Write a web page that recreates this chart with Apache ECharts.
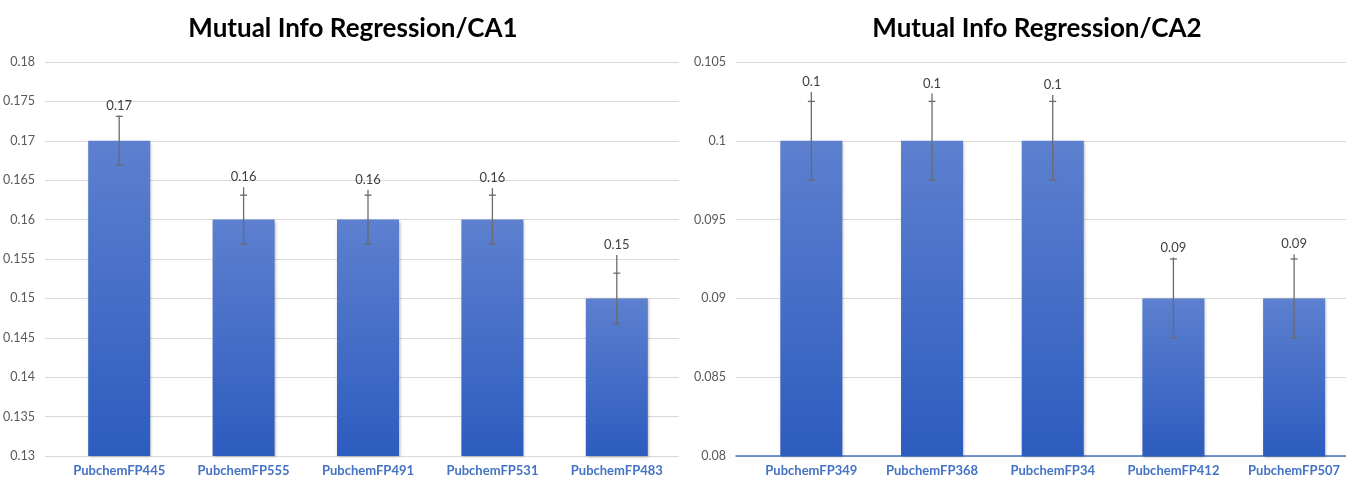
<!DOCTYPE html>
<html>
<head>
<meta charset="utf-8">
<script src="https://cdn.jsdelivr.net/npm/echarts@6/dist/echarts.min.js"></script>
<style>
html,body{margin:0;padding:0;background:#fff;}
#chart{width:1346px;height:481px;}
</style>
</head>
<body>
<div id="chart"></div>
<script>
// ---- data ----
const titleLeft = 'Mutual Info Regression/CA1';
const titleRight = 'Mutual Info Regression/CA2';

const catsLeft = ['PubchemFP445', 'PubchemFP555', 'PubchemFP491', 'PubchemFP531', 'PubchemFP483'];
const valsLeft = [0.17, 0.16, 0.16, 0.16, 0.15];
const capErrLeft = [0.0031, 0.0031, 0.0031, 0.0031, 0.0032];
const lineErrLeft = [0.0032, 0.0041, 0.0038, 0.0040, 0.0055];

const catsRight = ['PubchemFP349', 'PubchemFP368', 'PubchemFP34', 'PubchemFP412', 'PubchemFP507'];
const valsRight = [0.1, 0.1, 0.1, 0.09, 0.09];
const capErrRight = [0.0025, 0.0025, 0.0025, 0.0025, 0.0025];
const lineErrRight = [0.0031, 0.0030, 0.0029, 0.0026, 0.0028];

const yLeft = { min: 0.13, max: 0.18, interval: 0.005 };
const yRight = { min: 0.08, max: 0.105, interval: 0.005 };

// ---- styling ----
const FONT = 'Lato, "Noto Sans", sans-serif';
const barColor = new echarts.graphic.LinearGradient(0, 0, 0, 1, [
  { offset: 0, color: '#5d80cf' },
  { offset: 1, color: '#2d5cbf' }
]);
const barItem = { color: barColor, shadowColor: 'rgba(0,0,0,0.3)', shadowBlur: 3, shadowOffsetX: 1, shadowOffsetY: 1 };
const xLabelStyle = { margin: 8, color: '#4472c4', fontFamily: FONT, fontWeight: 'bold', fontSize: 13 };
const yLabelStyle = { margin: 10, color: '#595959', fontFamily: FONT, fontSize: 12.5 };

function errSeries(name, xi, yi, vals, capErr, lineErr) {
  return {
    name: name,
    type: 'custom',
    xAxisIndex: xi,
    yAxisIndex: yi,
    z: 5,
    clip: false,
    data: vals.map((v, i) => [i, v, capErr[i], lineErr[i]]),
    renderItem: function (params, api) {
      const i = api.value(0), v = api.value(1), ce = api.value(2), le = api.value(3);
      const pTop = api.coord([i, v + le]);
      const pHi = api.coord([i, v + ce]);
      const pLo = api.coord([i, v - ce]);
      const x = pTop[0];
      const hw = 3.5;
      const st = { stroke: '#6b6b6b', lineWidth: 1.3 };
      return {
        type: 'group',
        children: [
          { type: 'line', shape: { x1: x, y1: pLo[1], x2: x, y2: pTop[1] }, style: st },
          { type: 'line', shape: { x1: x - hw, y1: pHi[1], x2: x + hw, y2: pHi[1] }, style: st },
          { type: 'line', shape: { x1: x - hw, y1: pLo[1], x2: x + hw, y2: pLo[1] }, style: st },
          { type: 'text', x: x, y: pTop[1] - 10,
            style: { text: String(v), fill: '#404040', font: '13px ' + FONT, align: 'center', verticalAlign: 'middle' } }
        ]
      };
    }
  };
}

const chart = echarts.init(document.getElementById('chart'), null, { renderer: 'canvas' });

// right panel: category slots are 120.75px wide, the last slot is cut by the picture edge
const rightXMax = 4.43;

const option = {
  backgroundColor: '#ffffff',
  animation: false,
  title: [
    { text: titleLeft, left: 348, top: 11, textAlign: 'center',
      textStyle: { fontFamily: FONT, fontWeight: 'bold', fontSize: 26, color: '#000' } },
    { text: titleRight, left: 1032, top: 11, textAlign: 'center',
      textStyle: { fontFamily: FONT, fontWeight: 'bold', fontSize: 26, color: '#000' } }
  ],
  grid: [
    { left: 44, width: 635, top: 62, bottom: 25 },   // 0: left gridlines / y labels
    { left: 57, width: 622, top: 62, bottom: 25 },   // 1: left bars
    { left: 736, width: 610, top: 62, bottom: 25 },  // 2: right gridlines / y labels
    { left: 751, width: 595, top: 62, bottom: 25 }   // 3: right bars
  ],
  xAxis: [
    { gridIndex: 0, type: 'category', data: catsLeft, show: false },
    { gridIndex: 1, type: 'category', data: catsLeft,
      axisLine: { show: false }, axisTick: { show: false },
      axisLabel: Object.assign({ interval: 0 }, xLabelStyle) },
    { gridIndex: 2, type: 'category', data: catsRight, show: true,
      axisLine: { show: true, lineStyle: { color: '#4472c4', width: 1.5 } },
      axisTick: { show: false }, axisLabel: { show: false } },
    { gridIndex: 3, type: 'value', min: -0.5, max: rightXMax,
      axisLine: { show: false }, axisTick: { show: false }, splitLine: { show: false },
      axisLabel: Object.assign({
        customValues: [0, 1, 2, 3, 4],
        formatter: function (v) { return catsRight[Math.round(v)] || ''; }
      }, xLabelStyle) }
  ],
  yAxis: [
    { gridIndex: 0, type: 'value', min: yLeft.min, max: yLeft.max, interval: yLeft.interval,
      axisLine: { show: false }, axisTick: { show: false },
      axisLabel: yLabelStyle,
      splitLine: { lineStyle: { color: '#d9d9d9', width: 1 } } },
    { gridIndex: 1, type: 'value', min: yLeft.min, max: yLeft.max, interval: yLeft.interval, show: false,
      splitLine: { show: false } },
    { gridIndex: 2, type: 'value', min: yRight.min, max: yRight.max, interval: yRight.interval,
      axisLine: { show: false }, axisTick: { show: false },
      axisLabel: yLabelStyle,
      splitLine: { lineStyle: { color: '#d9d9d9', width: 1 } } },
    { gridIndex: 3, type: 'value', min: yRight.min, max: yRight.max, interval: yRight.interval, show: false,
      splitLine: { show: false } }
  ],
  series: [
    { type: 'bar', xAxisIndex: 1, yAxisIndex: 1, data: valsLeft, barWidth: 62, itemStyle: barItem },
    errSeries('errL', 1, 1, valsLeft, capErrLeft, lineErrLeft),
    { type: 'bar', xAxisIndex: 3, yAxisIndex: 3, data: valsRight.map((v, i) => [i, v]), barWidth: 62,
      itemStyle: barItem },
    errSeries('errR', 3, 3, valsRight, capErrRight, lineErrRight)
  ]
};
chart.setOption(option);
</script>
</body>
</html>
